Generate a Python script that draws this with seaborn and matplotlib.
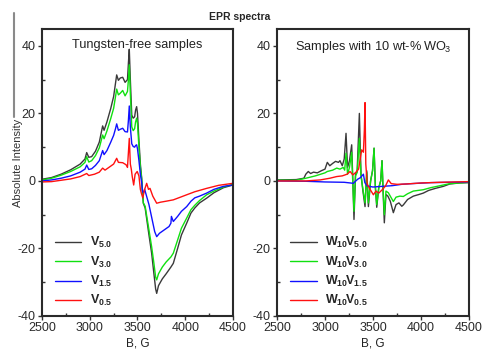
import numpy as np
import pandas as pd
import matplotlib
matplotlib.use("Agg")
import matplotlib.pyplot as plt
from matplotlib.lines import Line2D
import seaborn as sns

# ---------------- data ----------------
# Left panel: tungsten-free samples
L_V50_B = [2500, 2600, 2700, 2800, 2900, 2950, 2968, 2990, 3020, 3060, 3100, 3135, 3150, 3180, 3220, 3250, 3270, 3282, 3300, 3320, 3345, 3370, 3395, 3405, 3414, 3425, 3440, 3455, 3470, 3480, 3491, 3500, 3515, 3530, 3544, 3552, 3561, 3580, 3600, 3620, 3648, 3670, 3690, 3701, 3720, 3760, 3800, 3850, 3875, 3920, 3960, 4015, 4060, 4100, 4150, 4224, 4300, 4400, 4500]
L_V50_I = [0.5, 1.0, 2.0, 3.3, 5.0, 6.5, 8.4, 7.0, 7.2, 8.8, 11.5, 16.3, 15.0, 17.5, 21.5, 25.0, 29.0, 31.4, 29.8, 30.5, 30.7, 29.2, 30.0, 35.0, 39.0, 30.0, 19.5, 18.6, 19.0, 21.0, 22.0, 20.0, 12.0, 5.0, 0.8, -3.0, -6.6, -8.0, -12.0, -16.0, -21.4, -27.0, -32.0, -33.3, -31.0, -29.0, -27.5, -25.5, -24.4, -20.0, -16.0, -12.5, -9.5, -8.0, -6.5, -5.1, -3.5, -2.0, -1.2]

L_V30_B = L_V50_B
L_V30_I = [0.3, 0.8, 1.7, 2.8, 4.2, 5.5, 7.2, 5.6, 6.0, 7.5, 9.8, 13.6, 12.5, 14.8, 18.5, 21.5, 25.0, 27.2, 25.5, 26.0, 26.8, 25.2, 26.5, 30.0, 34.4, 26.0, 16.0, 14.9, 15.5, 17.5, 18.6, 17.0, 10.0, 4.0, 0.5, -3.0, -6.5, -7.5, -11.0, -14.5, -19.5, -24.0, -28.5, -29.3, -27.5, -25.5, -24.0, -22.5, -21.4, -17.5, -14.0, -11.0, -8.5, -7.2, -5.8, -4.1, -3.0, -1.8, -1.0]

L_V15_B = [2500, 2600, 2700, 2800, 2900, 2950, 2968, 2990, 3020, 3060, 3100, 3135, 3150, 3180, 3220, 3250, 3270, 3282, 3300, 3320, 3345, 3370, 3395, 3405, 3414, 3425, 3440, 3455, 3470, 3480, 3491, 3500, 3515, 3530, 3544, 3552, 3561, 3575, 3590, 3620, 3650, 3680, 3701, 3730, 3780, 3830, 3850, 3855, 3875, 3920, 3960, 4015, 4060, 4100, 4150, 4224, 4300, 4400, 4500]
L_V15_I = [0.0, 0.3, 0.8, 1.5, 2.6, 3.5, 4.7, 3.4, 3.6, 4.6, 6.0, 9.0, 7.8, 9.0, 11.5, 13.5, 15.5, 16.9, 15.0, 15.3, 15.6, 14.6, 14.5, 18.0, 22.2, 16.0, 11.0, 10.2, 10.0, 10.5, 10.7, 9.5, 6.0, 2.0, -0.5, -3.0, -3.6, -2.5, -4.0, -7.0, -11.0, -15.0, -16.5, -15.5, -14.5, -13.5, -12.5, -10.5, -12.0, -10.5, -9.0, -7.6, -6.0, -5.0, -4.5, -3.6, -2.5, -1.6, -1.2]

L_V05_B = [2500, 2600, 2700, 2800, 2900, 2968, 2990, 3050, 3100, 3135, 3160, 3200, 3250, 3282, 3300, 3345, 3380, 3395, 3405, 3414, 3425, 3435, 3445, 3460, 3475, 3497, 3515, 3530, 3540, 3555, 3575, 3596, 3615, 3631, 3660, 3701, 3740, 3800, 3875, 3950, 4015, 4100, 4224, 4350, 4500]
L_V05_I = [-0.3, -0.2, 0.2, 0.6, 1.3, 2.2, 1.6, 2.0, 2.6, 3.8, 3.2, 4.0, 5.0, 6.7, 5.5, 5.4, 4.8, 4.0, 8.5, 12.6, 5.0, 3.5, 1.3, -1.2, 2.0, 2.8, 1.5, -2.5, -3.6, -5.0, -2.5, -0.7, -2.5, -2.2, -4.5, -6.6, -6.3, -6.0, -5.6, -4.8, -4.1, -3.2, -2.2, -1.3, -0.7]

# Right panel: samples with 10 wt-% WO3
R_V50_B = [2500, 2700, 2780, 2800, 2826, 2850, 2880, 2920, 2960, 3000, 3024, 3050, 3080, 3110, 3140, 3156, 3180, 3200, 3219, 3235, 3255, 3278, 3290, 3302, 3318, 3335, 3358, 3375, 3395, 3417, 3435, 3452, 3475, 3495, 3511, 3525, 3539, 3560, 3580, 3594, 3605, 3618, 3635, 3655, 3680, 3712, 3740, 3770, 3800, 3816, 3860, 3920, 3980, 4024, 4080, 4150, 4233, 4300, 4400, 4500]
R_V50_I = [0.3, 0.4, 0.8, 2.0, 2.8, 2.2, 2.6, 2.4, 3.0, 3.5, 5.5, 4.5, 5.2, 5.8, 5.5, 6.0, 4.5, 6.5, 14.1, 4.0, 6.0, 10.7, 0.0, -11.4, 2.0, 3.0, 20.0, 2.0, -3.0, -7.6, 3.0, -7.6, 0.0, 3.0, 9.7, -2.0, -7.8, -2.0, 0.0, 6.0, -3.0, -12.4, -4.0, -4.5, -6.0, -9.4, -7.0, -6.5, -7.5, -7.1, -5.5, -4.5, -4.0, -3.6, -2.8, -2.2, -1.6, -0.9, -0.6, -0.5]

R_V30_B = [2500, 2700, 2800, 2900, 3000, 3024, 3080, 3122, 3156, 3190, 3205, 3219, 3235, 3255, 3278, 3290, 3302, 3318, 3335, 3358, 3375, 3395, 3417, 3435, 3452, 3475, 3495, 3511, 3525, 3539, 3560, 3580, 3594, 3605, 3618, 3635, 3660, 3690, 3712, 3740, 3780, 3816, 3860, 3920, 4024, 4100, 4200, 4300, 4500]
R_V30_I = [0.2, 0.2, 0.8, 1.5, 2.4, 2.8, 3.2, 3.8, 3.5, 4.0, 3.2, 8.2, 2.0, 4.0, 8.5, -1.0, -9.0, 1.5, 2.5, 12.6, 1.5, -2.5, -6.5, 2.5, -6.5, 0.0, 3.0, 9.7, -2.0, -7.0, -2.0, 0.0, 6.0, -2.5, -10.0, -3.0, -3.5, -5.0, -6.1, -4.8, -4.5, -4.6, -3.8, -3.0, -2.6, -2.0, -1.4, -0.8, -0.4]

R_V15_B = [2500, 2800, 3000, 3200, 3295, 3340, 3370, 3400, 3415, 3440, 3500, 3600, 3700, 3800, 3900, 4100, 4300, 4500]
R_V15_I = [0.0, -0.1, -0.3, -0.4, -0.7, 0.5, 1.0, 2.0, -0.5, -1.5, -1.8, -1.6, -1.4, -1.0, -0.8, -0.5, -0.4, -0.3]

R_V05_B = [2500, 2800, 2950, 3050, 3122, 3180, 3230, 3261, 3290, 3320, 3350, 3382, 3400, 3410, 3417, 3425, 3440, 3470, 3504, 3530, 3560, 3600, 3630, 3660, 3690, 3750, 3850, 4000, 4200, 4500]
R_V05_I = [0.0, 0.0, 0.3, 0.8, 1.3, 1.5, 2.0, 2.8, 1.8, 2.5, 3.5, 9.2, 8.5, 15.0, 23.2, 5.0, -1.0, -2.5, -4.1, -3.0, -3.6, -2.5, -1.5, 0.3, -0.8, -1.0, -0.9, -0.6, -0.4, -0.2]

LEFT_LABELS = [r"$\mathbf{V_{5.0}}$", r"$\mathbf{V_{3.0}}$", r"$\mathbf{V_{1.5}}$", r"$\mathbf{V_{0.5}}$"]
RIGHT_LABELS = [r"$\mathbf{W_{10}\!V_{5.0}}$", r"$\mathbf{W_{10}\!V_{3.0}}$",
                r"$\mathbf{W_{10}\!V_{1.5}}$", r"$\mathbf{W_{10}\!V_{0.5}}$"]
COLORS = ["#3a3a3a", "#10e010", "#1010ff", "#ff1010"]

X_TICKS = [2500, 3000, 3500, 4000, 4500]
Y_TICKS = [-40, -20, 0, 20, 40]


def long_df(series, labels):
    frames = []
    for (b, i), lab in zip(series, labels):
        frames.append(pd.DataFrame({"B": b, "I": i, "sample": lab}))
    return pd.concat(frames, ignore_index=True)


left_df = long_df([(L_V50_B, L_V50_I), (L_V30_B, L_V30_I), (L_V15_B, L_V15_I), (L_V05_B, L_V05_I)], LEFT_LABELS)
right_df = long_df([(R_V50_B, R_V50_I), (R_V30_B, R_V30_I), (R_V15_B, R_V15_I), (R_V05_B, R_V05_I)], RIGHT_LABELS)

# ---------------- style ----------------
sns.set_style("ticks")
plt.rcParams["font.family"] = ["Liberation Sans", "DejaVu Sans"]
plt.rcParams["mathtext.fontset"] = "custom"
plt.rcParams["mathtext.rm"] = "Liberation Sans"
plt.rcParams["mathtext.bf"] = "Liberation Sans:bold"
plt.rcParams["mathtext.it"] = "Liberation Sans:italic"
plt.rcParams["axes.unicode_minus"] = False

W, H = 482, 352
fig = plt.figure(figsize=(W / 100, H / 100), dpi=100)
ax1 = fig.add_axes([42 / W, 1 - 316 / H, 191 / W, 287 / H])
ax2 = fig.add_axes([277 / W, 1 - 316 / H, 192 / W, 287 / H])

for ax, df, labels, ptitle in [
    (ax1, left_df, LEFT_LABELS, "Tungsten-free samples"),
    (ax2, right_df, RIGHT_LABELS, r"Samples with 10 wt-% $\mathregular{WO_{\!3}}$"),
]:
    sns.lineplot(data=df, x="B", y="I", hue="sample", hue_order=labels,
                 palette=dict(zip(labels, COLORS)), estimator=None, sort=False,
                 linewidth=1.0, ax=ax)
    ax.set_xlim(2500, 4500)
    ax.set_ylim(-40, 45)
    ax.set_xticks(X_TICKS)
    ax.set_yticks(Y_TICKS)
    ax.set_xticks([2750, 3250, 3750, 4250], minor=True)
    ax.set_yticks([-30, -10, 10, 30], minor=True)
    ax.tick_params(which="major", direction="out", length=3, width=1.0,
                   colors="#333333", labelsize=9, labelcolor="#2a2a2a", pad=1.5)
    ax.tick_params(which="minor", direction="in", length=2, width=1.0, colors="#333333")
    for s in ax.spines.values():
        s.set_color("#2a2a2a")
        s.set_linewidth(1.5)
    ax.set_xlabel("B, G", fontsize=8.5, color="#222222", labelpad=2)
    ax.set_ylabel("")
    ax.text(0.5, 0.965, ptitle, transform=ax.transAxes, ha="center", va="top",
            fontsize=9.2, color="#222222")
    leg = ax.legend(loc="lower left", frameon=False,
                    prop={"size": 9},
                    handlelength=2.1, handletextpad=0.7, labelspacing=0.35,
                    borderaxespad=0.2, bbox_to_anchor=(0.03, 0.0))

fig.text(240 / W, 1 - 17 / H, "EPR spectra", ha="center", va="center",
         fontsize=7.5, fontweight="bold")
fig.text(18 / W, 1 - 163 / H, "Absolute Intensity", rotation=90, ha="center",
         va="center", fontsize=8, color="#333333")
fig.add_artist(Line2D([14 / W, 14 / W], [1 - 13 / H, 1 - 117 / H],
                      color="#8a8a8a", lw=1.5))

fig.savefig("out.png", dpi=100)
